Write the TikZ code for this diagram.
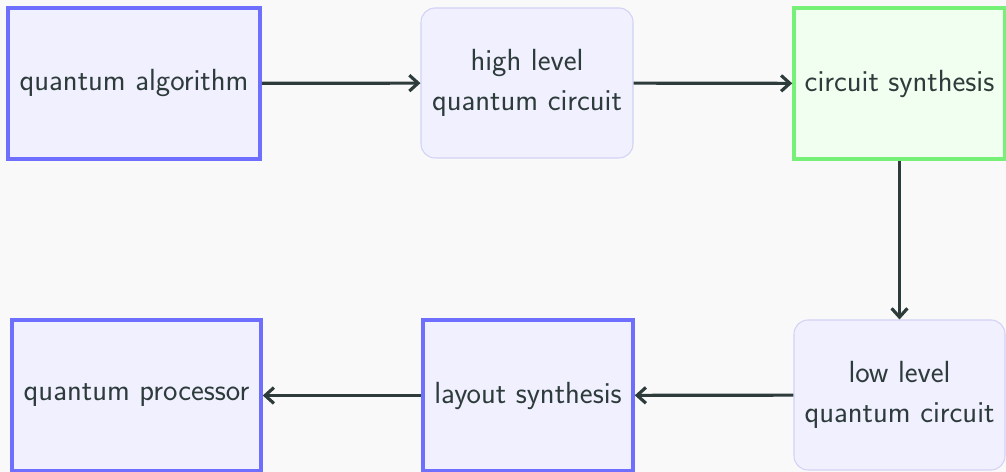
\documentclass[tikz,border=0pt]{standalone}
\usepackage{tikz}
\usetikzlibrary{arrows.meta}
\definecolor{bluebox}{HTML}{6F6FFF}
\definecolor{boxfill}{HTML}{F0F0FF}
\definecolor{greenbox}{HTML}{77F077}
\definecolor{greenfill}{HTML}{F0FFF0}
\definecolor{softline}{HTML}{D2D2F6}
\definecolor{ink}{HTML}{2E3B3B}
\definecolor{paper}{HTML}{F9F9F9}
\tikzset{
	stage/.style={draw=bluebox, fill=boxfill, line width=2pt, text=ink, align=center, font=\sffamily\fontsize{17.4}{23}\selectfont, inner sep=0pt},
	result/.style={draw=softline, fill=boxfill, line width=0.6pt, rounded corners=8pt, text=ink, align=center, font=\sffamily\fontsize{17.4}{23}\selectfont, inner sep=0pt},
	synth/.style={stage, draw=greenbox, fill=greenfill},
	flow/.style={draw=ink, line width=1.8pt, -{Straight Barb[length=5pt, width=9pt]}}
}
\begin{document}
\begin{tikzpicture}
		%%%%% START %%%%%
		
		\fill[paper] (0, 0) rectangle (20.12, 9.44);
		\useasboundingbox (0, 0) rectangle (20.12, 9.44);
		
		\node[stage, minimum width=5.04cm, minimum height=3.02cm] (algorithm) at (2.68, 7.77) {quantum algorithm};
		\node[result, minimum width=4.24cm, minimum height=3.0cm] (highlevel) at (10.54, 7.78) {high level\\quantum circuit};
		\node[synth, minimum width=4.22cm, minimum height=3.02cm] (circuitsynth) at (17.99, 7.77) {circuit synthesis};
		
		\node[result, minimum width=4.22cm, minimum height=3.0cm] (lowlevel) at (17.99, 1.54) {low level\\quantum circuit};
		\node[stage, minimum width=4.2cm, minimum height=3.02cm] (layoutsynth) at (10.56, 1.53) {layout synthesis};
		\node[stage, minimum width=4.98cm, minimum height=3.02cm] (processor) at (2.73, 1.53) {quantum processor};
		
		\draw[flow] (algorithm) -- (highlevel);
		\draw[flow] (highlevel) -- (circuitsynth);
		\draw[flow] (circuitsynth) -- (lowlevel);
		\draw[flow] (lowlevel) -- (layoutsynth);
		\draw[flow] (layoutsynth) -- (processor);
		
		%%%%% END %%%%%
	\end{tikzpicture}
\end{document}
